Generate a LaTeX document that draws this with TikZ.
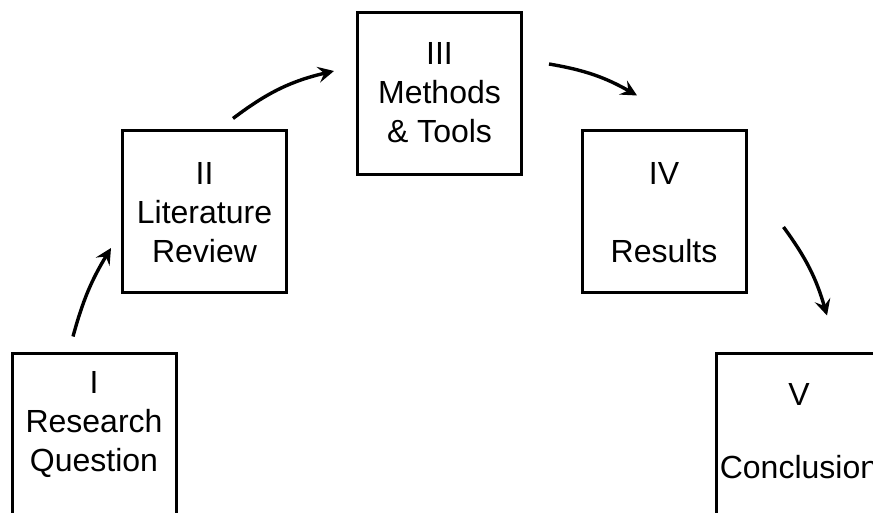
\documentclass[tikz,border=0pt]{standalone}
\usepackage{fontspec}
\setmainfont{Liberation Sans}
\usetikzlibrary{arrows.meta}
\begin{document}
\begin{tikzpicture}[x=1pt,y=1pt,
  stagebox/.style={draw=black,line width=3pt,minimum width=164pt,minimum height=162pt,inner sep=0pt},
  stagetext/.style={align=center,inner sep=0pt,font=\fontsize{32}{39}\selectfont},
  arr/.style={line width=3.4pt,-{Stealth[length=16pt,width=16pt,inset=6pt]}}]
\useasboundingbox (0,0) rectangle (873,512);
\clip (0,0) rectangle (873,512);
\fill[white] (0,0) rectangle (873,512);
% boxes
\node[stagebox] (b1) at (94,78) {};
\node[stagebox] (b2) at (204.5,300) {};
\node[stagebox] (b3) at (439.5,418) {};
\node[stagebox] (b4) at (664,300) {};
\node[stagebox] (b5) at (798,78) {};
% texts
\node[stagetext] (t1) at (94,87.5) {I\\Research\\Question};
\node[stagetext] (t2) at (204.5,299.5) {II\\Literature\\Review};
\node[stagetext] (t3) at (439.5,419) {III\\Methods\\\& Tools};
\node[stagetext] (t4) at (664,299.5) {IV\\[39pt]Results};
\node[stagetext] (t5) at (799,80.5) {V\\[34pt]Conclusion};
% arrows
\draw[arr] ([shift={(-21,15)}]b1.north) to[bend left=8] ([shift={(-10,-36)}]b2.west);
\draw[arr] ([shift={(28.5,11)}]b2.north) to[bend left=12] ([shift={(-22,23)}]b3.west);
\draw[arr] ([shift={(26,30)}]b3.east) to[bend left=10] ([shift={(-27,34)}]b4.north);
\draw[arr] ([shift={(36,-15)}]b4.east) to[bend left=10] ([shift={(29,36)}]b5.north);
\end{tikzpicture}
\end{document}
